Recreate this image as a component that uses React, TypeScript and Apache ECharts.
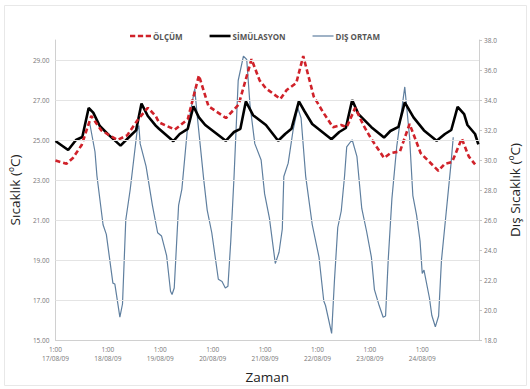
import React, { useEffect, useRef } from "react";
import * as echarts from "echarts";

// x values are hours after 17/08/09 1:00
const dayLabels = ["17/08/09", "18/08/09", "19/08/09", "20/08/09", "21/08/09", "22/08/09", "23/08/09", "24/08/09"];
const leftTicks = { min: 15, max: 30, interval: 2 };
const rightTicks = { min: 18, max: 38, interval: 2 };

const measured: [number, number][] = [
  [0, 23.97], [5, 23.81], [8, 24.1], [12, 24.75], [16.4, 26.2], [21, 25.48], [28.4, 25.0], [32.8, 25.23],
  [37.9, 26.04], [42.3, 26.61], [45.9, 26.2], [47.4, 25.88], [54.7, 25.52], [60.6, 26.04], [65.7, 28.23],
  [70.1, 26.69], [78.1, 26.1], [83.9, 26.77], [89.8, 29.04], [93.5, 27.98], [96.4, 27.58], [103, 27.05],
  [105.9, 27.5], [110.3, 27.85], [113.5, 29.2], [118.3, 27.17], [122.7, 26.37], [127.1, 25.64], [130.8, 25.75],
  [133.4, 25.64], [137.3, 26.61], [141, 25.75], [144.4, 25.1], [150.5, 24.1], [153.4, 24.34], [157.8, 24.43],
  [162.2, 25.8], [167.3, 24.34], [175.4, 23.46], [178.3, 23.81], [181.7, 23.9], [186.1, 25.07], [189.3, 24.18],
  [192.2, 23.78],
];

const simulated: [number, number][] = [
  [0, 24.95], [5.8, 24.5], [9.4, 25.0], [12.3, 25.15], [15.2, 26.6], [17.3, 26.37], [20.3, 25.7], [24.6, 25.23],
  [29.8, 24.72], [34.2, 25.2], [36.9, 25.48], [39.4, 26.82], [42.3, 26.2], [45.9, 25.72], [47.4, 25.56],
  [54, 24.94], [56.9, 25.3], [60.6, 25.56], [63.2, 26.69], [65.7, 26.13], [68.6, 25.75], [78, 24.96],
  [81.8, 25.4], [84.7, 25.56], [87.2, 26.93], [90.5, 26.24], [96.4, 25.75], [102, 24.96], [105.2, 25.3],
  [108.1, 25.56], [111.5, 26.93], [114, 26.45], [117.6, 25.8], [126.4, 25.04], [130, 25.4], [133, 25.6],
  [135.9, 27.0], [138.8, 26.29], [144.7, 25.64], [150.5, 25.12], [153.4, 25.45], [157.1, 25.66], [160, 26.88],
  [164, 26.13], [168.8, 25.48], [174.6, 24.96], [178.4, 25.3], [181.3, 25.5], [184.2, 26.66], [187.2, 26.29],
  [188.7, 25.75], [192.2, 25.3], [193.7, 24.78],
];

const outdoor: [number, number][] = [
  [15.5, 32.6], [18.1, 30.55], [19.0, 28.93], [21.8, 25.68], [23.3, 25.04], [26.3, 21.79], [27.2, 21.73],
  [29.5, 19.52], [30.7, 20.4], [32.2, 26.0], [34.2, 28.0], [37.4, 31.95], [38.2, 32.3], [38.8, 31.09],
  [41.5, 29.58], [44.4, 26.98], [46.8, 25.15], [48.6, 24.93], [50.9, 23.63], [52.7, 21.25], [53.4, 21.03],
  [54.4, 21.47], [56.4, 26.98], [57.9, 28.06], [60.5, 32.17], [63.8, 34.76], [64.9, 33.0], [67.9, 28.71],
  [69.5, 26.66], [71.6, 25.15], [74.6, 22.05], [76.3, 21.9], [77.8, 21.47], [79.0, 21.58], [80.3, 24.6],
  [81.8, 28.9], [83.7, 35.3], [86.1, 36.92], [87.6, 36.7], [89.1, 33.68], [91.3, 31.09], [94.2, 30.0],
  [95.8, 27.74], [98.0, 26.12], [100.7, 23.1], [102.4, 23.85], [103.9, 25.4], [104.6, 28.9], [106.6, 29.79],
  [108.8, 31.95], [111.0, 33.47], [112.5, 32.8], [114.6, 28.93], [117.6, 25.7], [120.7, 23.53], [122.9, 20.6],
  [123.7, 20.3], [126.5, 18.44], [127.8, 22.0], [129.3, 25.5], [130.9, 26.6], [132.4, 28.9], [133.4, 30.87],
  [135.9, 31.35], [138.1, 30.22], [140.3, 26.77], [142.5, 25.25], [144.7, 23.53], [146.1, 21.36], [148.3, 20.28],
  [150.1, 19.52], [151.2, 19.6], [152.4, 23.3], [154.1, 27.41], [156.3, 30.87], [160.0, 34.87], [162.2, 31.52],
  [163.7, 27.63], [165.4, 26.33], [167.0, 24.6], [168.0, 22.44], [168.8, 22.66], [171.3, 20.8], [172.4, 19.63],
  [174.0, 18.88], [175.5, 19.6], [176.8, 23.3], [179.0, 26.55], [181.2, 29.79], [182.2, 31.52],
];

const FONT = "'Open Sans', 'Liberation Sans', sans-serif";

const gridValues: number[] = [];
for (let v = leftTicks.min + leftTicks.interval; v < leftTicks.max; v += leftTicks.interval) gridValues.push(v);

const RED = "#d0222a";
const BLUE = "#5f7f9f";

export default function App() {
  const ref = useRef<HTMLDivElement>(null);
  useEffect(() => {
    if (!ref.current) return;
    const chart = echarts.init(ref.current, undefined, { renderer: "svg" });
    chart.setOption({
      animation: false,
      backgroundColor: "#ffffff",
      textStyle: { fontFamily: FONT },
      graphic: [
        {
          type: "rect",
          shape: { x: 4.5, y: 5.5, width: 522, height: 380 },
          style: { fill: "none", stroke: "#e8e8e8", lineWidth: 1 },
          silent: true,
        },
      ],
      legend: {
        top: 27,
        left: 125,
        itemWidth: 21,
        itemHeight: 10,
        itemGap: 27,
        symbolKeepAspect: true,
        textStyle: { fontSize: 8, fontWeight: "bold", color: "#555", fontFamily: FONT, padding: [0, 0, 0, -3] },
        data: [
          { name: "ÖLÇÜM", icon: "path://M0,0h5v2.6h-5z M7.5,0h5v2.6h-5z M15,0h5v2.6h-5z", itemStyle: { color: RED } },
          { name: "SİMÜLASYON", icon: "path://M0,0h21v2.6h-21z", itemStyle: { color: "#000" } },
          { name: "DIŞ ORTAM", icon: "path://M0,0h21v1.2h-21z", itemStyle: { color: BLUE } },
        ],
      },
      grid: { left: 50, right: 38, top: 40, bottom: 41, containLabel: false },
      xAxis: {
        type: "value",
        min: 0,
        max: 194,
        interval: 24,
        name: "Zaman",
        nameLocation: "middle",
        nameGap: 30,
        nameTextStyle: { fontSize: 13.5, color: "#222", fontFamily: FONT },
        axisLine: { show: true, lineStyle: { color: "#d0d0d0", width: 1 } },
        axisTick: { show: false },
        splitLine: { show: false },
        axisLabel: {
          fontSize: 6.5,
          color: "#777",
          lineHeight: 9,
          margin: 5,
          formatter: (v: number) => {
            const i = Math.round(v / 24);
            return i < dayLabels.length ? "1:00\n" + dayLabels[i] : "";
          },
        },
      },
      yAxis: [
        {
          type: "value",
          min: leftTicks.min,
          max: leftTicks.max,
          interval: leftTicks.interval,
          name: "Sıcaklık (ºC)",
          nameLocation: "middle",
          nameGap: 31,
          nameTextStyle: { fontSize: 13.5, color: "#222", fontFamily: FONT },
          axisLine: { show: true, lineStyle: { color: "#d0d0d0" } },
          axisTick: { show: false },
          splitLine: { show: false },
          axisLabel: {
            fontSize: 6.5,
            color: "#777",
            margin: 6,
            showMaxLabel: false,
            formatter: (v: number) => v.toFixed(2),
          },
        },
        {
          type: "value",
          min: rightTicks.min,
          max: rightTicks.max,
          interval: rightTicks.interval,
          position: "right",
          name: "Dış Sıcaklık (ºC)",
          nameLocation: "middle",
          nameGap: 29,
          nameRotate: 90,
          nameTextStyle: { fontSize: 13.5, color: "#222", fontFamily: FONT },
          axisLine: { show: true, lineStyle: { color: "#d0d0d0" } },
          axisTick: { show: true, length: 3, lineStyle: { color: "#c8c8c8" } },
          splitLine: { show: false },
          axisLabel: {
            fontSize: 6.5,
            color: "#777",
            margin: 5,
            formatter: (v: number) => v.toFixed(1),
          },
        },
      ],
      series: [
        {
          name: "grid",
          type: "line",
          yAxisIndex: 0,
          data: [],
          z: 1,
          silent: true,
          markLine: {
            silent: true,
            symbol: ["none", "none"],
            label: { show: false },
            lineStyle: { color: "#e4e4e4", width: 1, type: "solid" },
            data: gridValues.map((v) => ({ yAxis: v })),
          },
        },
        {
          name: "ÖLÇÜM",
          type: "line",
          yAxisIndex: 0,
          data: measured,
          showSymbol: false,
          symbol: "none",
          z: 4,
          itemStyle: { color: RED },
          lineStyle: { color: RED, width: 2.6, type: [5, 3] },
        },
        {
          name: "SİMÜLASYON",
          type: "line",
          yAxisIndex: 0,
          data: simulated,
          showSymbol: false,
          symbol: "none",
          z: 3,
          itemStyle: { color: "#000000" },
          lineStyle: { color: "#000000", width: 2.6 },
        },
        {
          name: "DIŞ ORTAM",
          type: "line",
          yAxisIndex: 1,
          data: outdoor,
          showSymbol: false,
          symbol: "none",
          z: 2,
          itemStyle: { color: BLUE },
          lineStyle: { color: BLUE, width: 1.2 },
        },
      ],
    });
    return () => chart.dispose();
  }, []);
  return <div ref={ref} style={{ position: "fixed", left: 0, top: 0, width: 530, height: 389 }} />;
}
